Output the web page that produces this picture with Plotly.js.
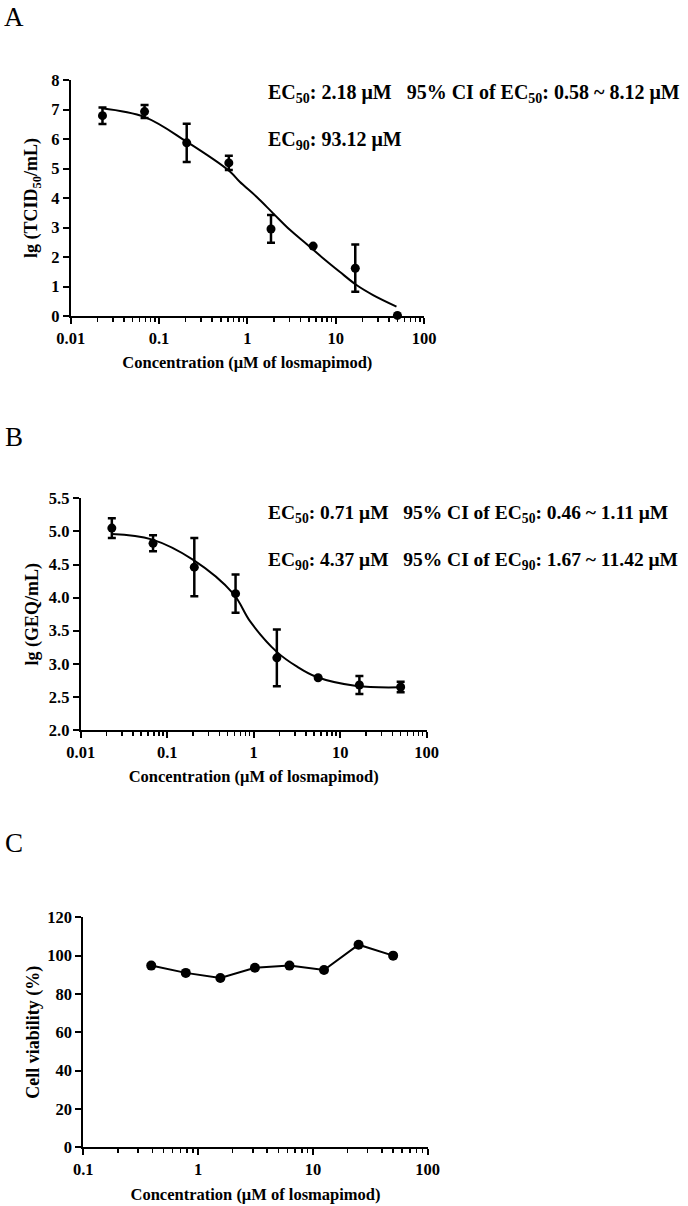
<!DOCTYPE html>
<html>
<head>
<meta charset="utf-8">
<script src="https://cdn.plot.ly/plotly-3.0.1.min.js"></script>
<style>html,body{margin:0;padding:0;background:#fff;}#chart{width:688px;height:1206px;}</style>
</head>
<body>
<div id="chart"></div>
<script>
// ---------- Data ----------
const concAB = [0.0229, 0.0686, 0.2058, 0.617, 1.852, 5.556, 16.67, 50];
const meanA = [6.79, 6.93, 5.87, 5.19, 2.95, 2.37, 1.62, 0.02];
const errA  = [0.28, 0.22, 0.65, 0.24, 0.47, 0.0, 0.80, 0.0];
const fitAx = [0.0224, 0.069, 0.205, 0.634, 0.82, 1.27, 1.96, 3.03, 4.68, 7.2, 11.1, 17.2, 26.5, 48.8];
const fitAy = [7.04, 6.74, 5.91, 4.90, 4.55, 4.04, 3.48, 2.92, 2.44, 1.96, 1.50, 1.05, 0.71, 0.32];

const meanB = [5.05, 4.82, 4.46, 4.06, 3.09, 2.79, 2.68, 2.65];
const errB  = [0.15, 0.12, 0.44, 0.29, 0.43, 0.0, 0.135, 0.08];
const fitBx = [0.0228, 0.066, 0.2, 0.58, 0.91, 1.85, 3.14, 5.35, 15.5, 49];
const fitBy = [4.96, 4.88, 4.57, 4.06, 3.64, 3.18, 2.96, 2.80, 2.665, 2.645];

const concC = [0.390625, 0.78125, 1.5625, 3.125, 6.25, 12.5, 25, 50];
const viabC = [94.8, 91.0, 88.3, 93.7, 94.8, 92.5, 105.7, 100];

const xTickValsAB = [0.01, 0.1, 1, 10, 100];
const xTickTextAB = ['0.01', '0.1', '1', '10', '100'];
const xTickValsC = [0.1, 1, 10, 100];
const xTickTextC = ['0.1', '1', '10', '100'];

const titleX = 'Concentration (μM of losmapimod)';
const titleYA = 'lg (TCID<sub>50</sub>/mL)';
const titleYB = 'lg (GEQ/mL)';
const titleYC = 'Cell viability (%)';

const textA1 = 'EC<sub>50</sub>: 2.18 μM\u00A0\u00A0\u00A095% CI of EC<sub>50</sub>: 0.58 ~ 8.12 μM';
const textA2 = 'EC<sub>90</sub>: 93.12 μM';
const textB1 = 'EC<sub>50</sub>: 0.71 μM\u00A0\u00A0\u00A095% CI of EC<sub>50</sub>: 0.46 ~ 1.11 μM';
const textB2 = 'EC<sub>90</sub>: 4.37 μM\u00A0\u00A0\u00A095% CI of EC<sub>90</sub>: 1.67 ~ 11.42 μM';

// ---------- Layout helpers ----------
const W = 688, H = 1206;
const px = v => v / W;
const py = v => 1 - v / H;
const FONT = 'Liberation Serif, Times New Roman, serif';
const tickFont = {family: FONT, size: 16.5, color: '#000', weight: 'bold'};
const xTitleFont = {family: FONT, size: 16.5, color: '#000', weight: 'bold'};
const yTitleFont = {family: FONT, size: 18, color: '#000', weight: 'bold'};

function xAxis(x0, x1, range, tv, tt, anchor) {
  return {
    type: 'log', domain: [px(x0), px(x1)], range: range, anchor: anchor,
    tickmode: 'array', tickvals: tv, ticktext: tt,
    ticks: 'outside', ticklen: 6, tickwidth: 2, tickcolor: '#000',
    showline: true, linewidth: 2, linecolor: '#000',
    showgrid: false, zeroline: false, tickfont: tickFont,
    minor: {ticks: 'outside', ticklen: 4, tickwidth: 1.5, tickcolor: '#000', dtick: 'D1', showgrid: false},
    title: {text: titleX, font: xTitleFont, standoff: 10},
    automargin: false, fixedrange: true
  };
}
function yAxis(yTop, yBot, range, dtick, fmt, title, anchor, standoff) {
  return {
    domain: [py(yBot), py(yTop)], range: range, anchor: anchor,
    tickmode: 'linear', tick0: range[0], dtick: dtick, tickformat: fmt,
    ticks: 'outside', ticklen: 6, tickwidth: 2, tickcolor: '#000',
    showline: true, linewidth: 2, linecolor: '#000',
    showgrid: false, zeroline: false, tickfont: tickFont,
    title: {text: title, font: yTitleFont, standoff: standoff},
    automargin: false, fixedrange: true
  };
}

const marker = {color: '#000', size: 9};
const eb = arr => ({type: 'data', array: arr, visible: true, color: '#000', thickness: 2.5, width: 4});

const data = [
  {x: fitAx, y: fitAy, xaxis: 'x', yaxis: 'y', mode: 'lines', line: {color: '#000', width: 2, shape: 'spline', smoothing: 1}, hoverinfo: 'skip'},
  {x: concAB, y: meanA, xaxis: 'x', yaxis: 'y', mode: 'markers', marker: marker, error_y: eb(errA), cliponaxis: false},
  {x: fitBx, y: fitBy, xaxis: 'x2', yaxis: 'y2', mode: 'lines', line: {color: '#000', width: 2, shape: 'spline', smoothing: 1}, hoverinfo: 'skip'},
  {x: concAB, y: meanB, xaxis: 'x2', yaxis: 'y2', mode: 'markers', marker: marker, error_y: eb(errB), cliponaxis: false},
  {x: concC, y: viabC, xaxis: 'x3', yaxis: 'y3', mode: 'lines+markers', line: {color: '#000', width: 2}, marker: {color: '#000', size: 10}, cliponaxis: false}
];

const annFontA = {family: FONT, size: 20, color: '#000', weight: 'bold'};
const annFontB = {family: FONT, size: 19.5, color: '#000', weight: 'bold'};
const panelFont = {family: FONT, size: 27, color: '#000'};
const layout = {
  width: W, height: H,
  margin: {l: 0, r: 0, t: 0, b: 0},
  paper_bgcolor: '#fff', plot_bgcolor: '#fff',
  showlegend: false,
  font: {family: FONT, color: '#000'},
  xaxis: xAxis(70.7, 424, [-2, 2], xTickValsAB, xTickTextAB, 'y'),
  yaxis: yAxis(80, 316, [0, 8], 1, 'd', titleYA, 'x', 9),
  xaxis2: xAxis(80.7, 426.7, [-2, 2], xTickValsAB, xTickTextAB, 'y2'),
  yaxis2: yAxis(498.3, 730, [2, 5.5], 0.5, '.1f', titleYB, 'x2', 5),
  xaxis3: xAxis(83.3, 427.7, [-1, 2], xTickValsC, xTickTextC, 'y3'),
  yaxis3: yAxis(917.3, 1147.3, [0, 120], 20, 'd', titleYC, 'x3', 3),
  annotations: [
    {text: 'A', x: px(14), y: py(17), xref: 'paper', yref: 'paper', showarrow: false, font: panelFont, xanchor: 'center', yanchor: 'middle'},
    {text: 'B', x: px(14), y: py(437), xref: 'paper', yref: 'paper', showarrow: false, font: panelFont, xanchor: 'center', yanchor: 'middle'},
    {text: 'C', x: px(14), y: py(843), xref: 'paper', yref: 'paper', showarrow: false, font: panelFont, xanchor: 'center', yanchor: 'middle'},
    {text: textA1, x: px(266), y: py(93), xref: 'paper', yref: 'paper', showarrow: false, font: annFontA, xanchor: 'left', yanchor: 'middle'},
    {text: textA2, x: px(266), y: py(141), xref: 'paper', yref: 'paper', showarrow: false, font: annFontA, xanchor: 'left', yanchor: 'middle'},
    {text: textB1, x: px(266), y: py(514), xref: 'paper', yref: 'paper', showarrow: false, font: annFontB, xanchor: 'left', yanchor: 'middle'},
    {text: textB2, x: px(266), y: py(561), xref: 'paper', yref: 'paper', showarrow: false, font: annFontB, xanchor: 'left', yanchor: 'middle'}
  ]
};

Plotly.newPlot('chart', data, layout, {staticPlot: true, displayModeBar: false});
</script>
</body>
</html>
